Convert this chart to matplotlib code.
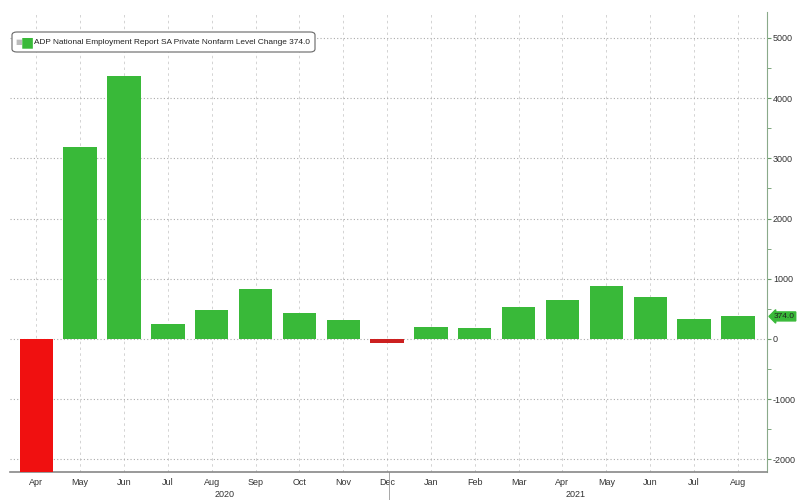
import numpy as np
import matplotlib
matplotlib.use("Agg")
import matplotlib.pyplot as plt
from matplotlib.patches import FancyBboxPatch

plt.rcParams['font.family'] = ['Liberation Sans Narrow', 'Liberation Sans', 'DejaVu Sans']
plt.rcParams['axes.unicode_minus'] = False

months = ['Apr', 'May', 'Jun', 'Jul', 'Aug', 'Sep', 'Oct', 'Nov', 'Dec',
          'Jan', 'Feb', 'Mar', 'Apr', 'May', 'Jun', 'Jul', 'Aug']
values = [-19500, 3190, 4370, 250, 480, 830, 430, 315, -65,
          205, 180, 530, 650, 880, 700, 330, 374]
years = ['2020', '2021']
last_val = 374.0

green = '#39b939'
red = '#f01010'

x = np.arange(len(values))
colors = [green if v >= 0 else red for v in values]
colors[8] = '#cc2020'

fig = plt.figure(figsize=(8, 5), dpi=100)
ax = fig.add_axes([0.0125, 0.056, 0.946, 0.92])

ax.bar(x, values, width=0.76, color=colors, zorder=3)

ax.set_xlim(-0.6, 16.66)
ax.set_ylim(-2210, 5430)

# grid
ax.set_yticks(np.arange(-2000, 5001, 1000))
ax.set_yticks(np.arange(-2000, 5001, 500), minor=True)
ax.grid(axis='y', which='major', color='#aaaaaa', linestyle=(0, (1, 2)), linewidth=0.8, zorder=0)
ax.set_xticks(x)
ax.grid(axis='x', color='#cccccc', linestyle=(0, (3, 4)), linewidth=0.6, zorder=0)

ax.yaxis.tick_right()
ax.tick_params(axis='y', which='both', direction='out', length=3, color='#6a9a6a',
               labelsize=6.5, labelcolor='#333333', pad=1.5)
ax.tick_params(axis='x', length=0, labelsize=6.5, labelcolor='#333333', pad=4)
ax.set_xticklabels(months)

for s in ['top', 'left']:
    ax.spines[s].set_visible(False)
ax.spines['right'].set_color('#8aaa8a')
ax.spines['bottom'].set_color('#888888')
ax.spines['bottom'].set_linewidth(1.2)

# year labels and divider
for xpos, yr in zip([4.3, 12.3], years):
    ax.annotate(yr, xy=(xpos, 0), xycoords=('data', 'axes fraction'), xytext=(0, -16.5),
                textcoords='offset points', ha='center', va='center', fontsize=6.5,
                color='#333333')
ax.plot([8.05, 8.05], [0, -0.1], transform=ax.get_xaxis_transform(), color='#999999',
        linewidth=0.6, clip_on=False)

# last value tag
ax.annotate(f'{last_val:.1f}', xy=(1.0, last_val), xycoords=('axes fraction', 'data'),
            xytext=(5, 0), textcoords='offset points', ha='left', va='center',
            fontsize=6, color='#222222',
            bbox=dict(boxstyle='larrow,pad=0.12', fc=green, ec=green))

# legend box (figure pixel fractions)
box = FancyBboxPatch((12 / 800, 448 / 500), 303 / 800, 20 / 500,
                     boxstyle='round,pad=0,rounding_size=0.006', transform=fig.transFigure,
                     fc='white', ec='#666666', lw=0.8, zorder=5)
fig.patches.append(box)
fig.text(15 / 800, 0.916, '\u25a0', fontsize=5, color='#bbbbbb', va='center', ha='left',
         family='DejaVu Sans', zorder=6)
fig.text(21 / 800, 0.916, '\u25a0', fontsize=10, color=green, va='center', ha='left',
         family='DejaVu Sans', zorder=6)
fig.text(34 / 800, 0.916, f'ADP National Employment Report SA Private Nonfarm Level Change {last_val:.1f}',
         fontsize=5.95, color='#222222', va='center', ha='left', zorder=6)

fig.savefig('out.png', dpi=100)
